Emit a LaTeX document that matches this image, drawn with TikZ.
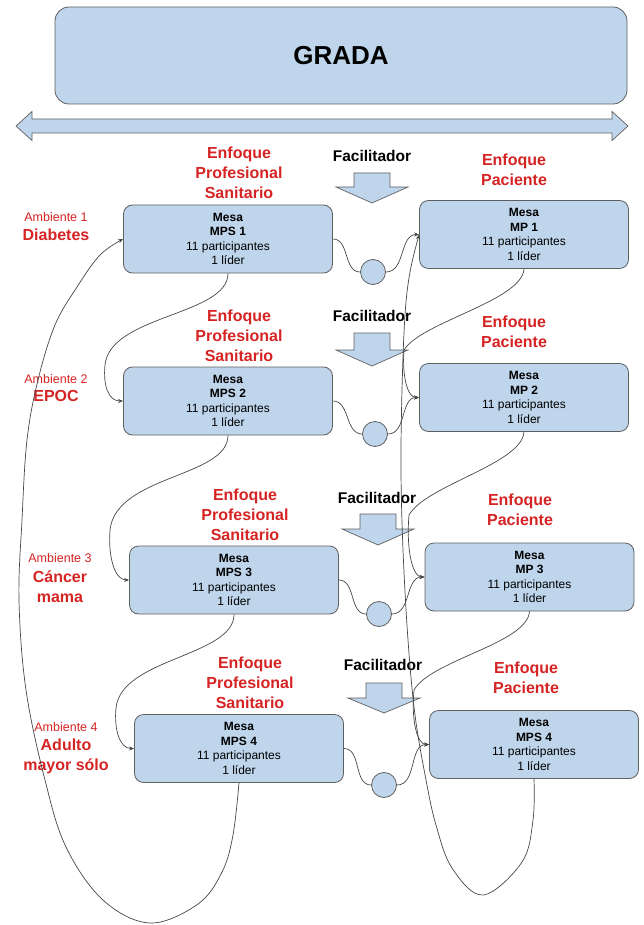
\documentclass[tikz,border=0pt]{standalone}
\usepackage{fontspec}
\setmainfont{Liberation Sans}
\usetikzlibrary{arrows.meta}
\definecolor{boxblue}{RGB}{190,213,235}
\definecolor{boxline}{RGB}{95,95,95}
\definecolor{lblred}{RGB}{214,35,35}
\definecolor{connc}{RGB}{70,70,70}
\newcommand{\fcarrow}[4]{% cx, shaft top, head start, tip
  \fill[boxblue] (#1-18,#2) -- (#1+18,#2) -- (#1+18,#3) -- (#1+36,#3) -- (#1,#4) -- (#1-36,#3) -- (#1-18,#3) -- cycle;
  \draw[boxline, line width=0.7pt, line join=miter] (#1-18,#2) -- (#1+18,#2) -- (#1+18,#3) -- (#1+36,#3) -- (#1,#4) -- (#1-36,#3) -- (#1-18,#3) -- cycle;}
\begin{document}
\begin{tikzpicture}[x=1pt,y=-1pt,
  mesa/.style={draw=boxline, line width=0.8pt, fill=boxblue, rounded corners=9pt,
    minimum width=209pt, minimum height=68pt, align=center, inner sep=0pt,
    font=\fontsize{12}{14.6}\selectfont},
  redlbl/.style={text=lblred, font=\bfseries\fontsize{16}{20}\selectfont, align=center, inner sep=0pt},
  amblbl/.style={text=lblred, font=\fontsize{12.5}{15}\selectfont, inner sep=0pt},
  faclbl/.style={text=black, font=\bfseries\fontsize{15.5}{18}\selectfont, inner sep=0pt},
  dot/.style={circle, draw=boxline, line width=0.8pt, fill=boxblue, minimum size=25pt, inner sep=0pt},
  conn/.style={draw=connc, line width=0.7pt},
  arr/.style={conn, -{Stealth[length=5pt,width=4pt]}}
]
\useasboundingbox (0,0) rectangle (643,925);

% GRADA
\node[draw=boxline, line width=0.8pt, fill=boxblue, rounded corners=14pt,
  minimum width=572pt, minimum height=97pt, inner sep=0pt,
  font=\bfseries\fontsize{26}{30}\selectfont] (grada) at (341,55.5) {GRADA};
% double arrow
\filldraw[fill=boxblue, draw=boxline, line width=0.7pt, line join=miter]
  (16,126) -- (32,111.5) -- (32,119) -- (612,119) -- (612,111.5) -- (628,126)
  -- (612,140.5) -- (612,133) -- (32,133) -- (32,140.5) -- cycle;

% ---------- Row 1
\node[redlbl] (eps1) at (239,173) {Enfoque\\Profesional\\Sanitario};
\node[faclbl] (fac1) at (372,156) {Facilitador};
\fcarrow{372}{173}{187}{203}
\node[redlbl] (ep1) at (514,169.5) {Enfoque\\Paciente};
\node[amblbl] (amb1) at (56,217) {Ambiente 1};
\node[redlbl] (dz1) at (56,235) {Diabetes};
\node[mesa] (MPS1) at (228,239) {\textbf{Mesa}\\\textbf{MPS 1}\\11 participantes\\1 líder};
\node[mesa] (MP1) at (524,234.5) {\textbf{Mesa}\\\textbf{MP 1}\\11 participantes\\1 líder};
\node[dot] (c1) at (373,272) {};

% ---------- Row 2
\node[redlbl] (eps2) at (239,336) {Enfoque\\Profesional\\Sanitario};
\node[faclbl] (fac2) at (372,316) {Facilitador};
\fcarrow{372}{333}{350}{366}
\node[redlbl] (ep2) at (514,332) {Enfoque\\Paciente};
\node[amblbl] (amb2) at (56,379) {Ambiente 2};
\node[redlbl] (dz2) at (56,396) {EPOC};
\node[mesa] (MPS2) at (228,401) {\textbf{Mesa}\\\textbf{MPS 2}\\11 participantes\\1 líder};
\node[mesa] (MP2) at (524,397.5) {\textbf{Mesa}\\\textbf{MP 2}\\11 participantes\\1 líder};
\node[dot] (c2) at (375,434) {};

% ---------- Row 3
\node[redlbl] (eps3) at (245,515) {Enfoque\\Profesional\\Sanitario};
\node[faclbl] (fac3) at (377,498) {Facilitador};
\fcarrow{378}{514}{529}{545}
\node[redlbl] (ep3) at (520,510) {Enfoque\\Paciente};
\node[amblbl] (amb3) at (60,558) {Ambiente 3};
\node[redlbl] (dz3) at (60,587) {Cáncer\\mama};
\node[mesa] (MPS3) at (234,580) {\textbf{Mesa}\\\textbf{MPS 3}\\11 participantes\\1 líder};
\node[mesa] (MP3) at (529.5,577) {\textbf{Mesa}\\\textbf{MP 3}\\11 participantes\\1 líder};
\node[dot] (c3) at (379,614) {};

% ---------- Row 4
\node[redlbl] (eps4) at (250,683) {Enfoque\\Profesional\\Sanitario};
\node[faclbl] (fac4) at (383,665) {Facilitador};
\fcarrow{384}{683}{698}{713}
\node[redlbl] (ep4) at (526,678) {Enfoque\\Paciente};
\node[amblbl] (amb4) at (66,727) {Ambiente 4};
\node[redlbl] (dz4) at (66,756) {Adulto\\mayor sólo};
\node[mesa] (MPS4) at (239,748.5) {\textbf{Mesa}\\\textbf{MPS 4}\\11 participantes\\1 líder};
\node[mesa] (MP4) at (534,744.5) {\textbf{Mesa}\\\textbf{MPS 4}\\11 participantes\\1 líder};
\node[dot] (c4) at (384,785) {};

% ---------- wavy links through the circles
\foreach \i in {1,2,3,4}{
  \draw[conn] (MPS\i.east) to[out=0,in=180] (c\i.west);
  \draw[arr] (c\i.east) to[out=0,in=180] (MP\i.west);
}

% ---------- MPS chain
\draw[arr] (MPS1.south) .. controls +(0,42) and +(5,-50) .. (105,365)
  .. controls +(-2,20) and +(-15,0) .. (MPS2.west);
\draw[arr] (MPS2.south) .. controls +(0,42) and +(6,-55) .. (110,530)
  .. controls +(-2,25) and +(-15,0) .. (MPS3.west);
\draw[arr] (MPS3.south) .. controls +(0,42) and +(5,-50) .. (116,708)
  .. controls +(-2,20) and +(-15,0) .. (MPS4.west);

% ---------- MP chain
\draw[arr] (MP1.south) .. controls +(-2,32) and +(17,-28) .. (404,350)
  .. controls +(-2,25) and +(-12,0) .. (MP2.west);
\draw[arr] (MP2.south) .. controls +(-2,32) and +(17,-30) .. (409,515)
  .. controls +(-3,35) and +(-12,0) .. (MP3.west);
\draw[arr] (MP3.south) .. controls +(-2,32) and +(17,-30) .. (414,690)
  .. controls +(-3,30) and +(-12,0) .. (MP4.west);

% ---------- big return loops
\draw[arr] plot[smooth, tension=0.6] coordinates {(MPS4.south) (233,835) (222,872)
  (198,904) (150,923) (103,900) (66,847) (45,780) (26,690) (19,600) (22,520)
  (27,440) (38,380) (55,325) (77,287) (100,255) (MPS1.west)};
\draw[arr] plot[smooth, tension=0.6] coordinates {(MP4.south) (533,820) (522,862)
  (483,895) (452,868) (436,825) (426,780) (415,715) (408,640) (403,550)
  (401,470) (402,390) (405,315) (410,272) (MP1.west)};
\end{tikzpicture}
\end{document}
